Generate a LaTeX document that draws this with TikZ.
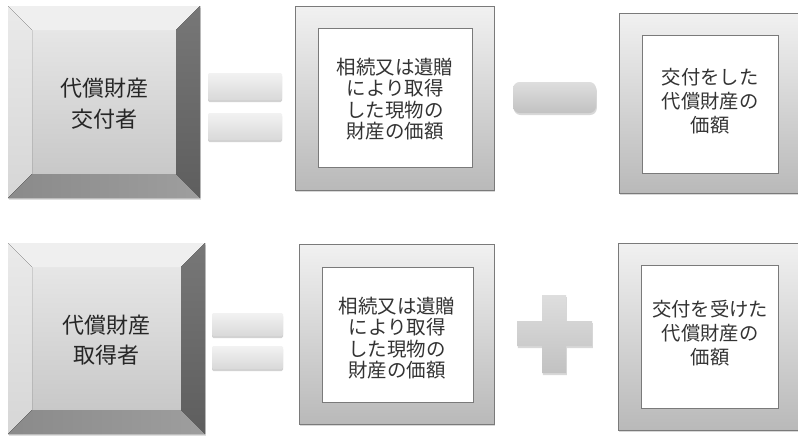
\documentclass[tikz,border=0pt]{standalone}
\usepackage{fontspec}
\newfontfamily\cjk{Noto Sans CJK JP}
\usetikzlibrary{shadows,calc}
\definecolor{bvTop}{HTML}{EFEFEF}
\definecolor{bvLeftA}{HTML}{EAEAEA}
\definecolor{bvLeftB}{HTML}{D6D6D6}
\definecolor{bvRightA}{HTML}{777777}
\definecolor{bvRightB}{HTML}{5E5E5E}
\definecolor{bvBotA}{HTML}{8A8A8A}
\definecolor{bvBotB}{HTML}{9E9E9E}
\definecolor{bvFaceA}{HTML}{E6E6E6}
\definecolor{bvFaceB}{HTML}{C8C8C8}
\definecolor{frA}{HTML}{F1F1F1}
\definecolor{frB}{HTML}{B9B9B9}
\definecolor{frLine}{HTML}{7A7A7A}
\tikzset{
  frameout/.style={draw=frLine, line width=0.7pt, top color=frA, bottom color=frB,
    drop shadow={opacity=0.3, shadow xshift=0.8pt, shadow yshift=-1.6pt}},
  framein/.style={draw=frLine, line width=0.7pt, fill=white},
  eqbar/.style={top color=white!95!black, bottom color=white!85!black, rounded corners=1pt,
    drop shadow={opacity=0.35, shadow xshift=0pt, shadow yshift=-1.5pt}},
  opbar/.style={top color=white!87!black, bottom color=white!76!black,
    drop shadow={opacity=0.3, shadow xshift=0.6pt, shadow yshift=-1.5pt}},
  bigtxt/.style={align=center, font=\cjk\fontsize{16.5}{23}\selectfont, text=black!85},
  midtxt/.style={align=center, font=\cjk\fontsize{14.6}{16}\selectfont, text=black!80},
  rtxt/.style={align=center, font=\cjk\fontsize{14.5}{18}\selectfont, text=black!80},
}
% bevel box: x1,y1,x2,y2,b
\newcommand\mybevel[5]{%
  \path[drop shadow={opacity=0.25, shadow xshift=0.6pt, shadow yshift=-1.2pt}, fill=bvBotA] (#1,#2) rectangle (#3,#4);
  \fill[top color=bvFaceA, bottom color=bvFaceB] (#1+#5,#2+#5) rectangle (#3-#5,#4-#5);
  \fill[bvTop] (#1,#2) -- (#3,#2) -- (#3-#5,#2+#5) -- (#1+#5,#2+#5) -- cycle;
  \fill[top color=bvLeftA, bottom color=bvLeftB] (#1,#2) -- (#1+#5,#2+#5) -- (#1+#5,#4-#5) -- (#1,#4) -- cycle;
  \fill[top color=bvRightA, bottom color=bvRightB] (#3,#2) -- (#3,#4) -- (#3-#5,#4-#5) -- (#3-#5,#2+#5) -- cycle;
  \fill[left color=bvBotA, right color=bvBotB] (#1,#4) -- (#1+#5,#4-#5) -- (#3-#5,#4-#5) -- (#3,#4) -- cycle;
}
\begin{document}
\begin{tikzpicture}[x=0.75pt,y=-0.75pt]
\useasboundingbox (0,0) rectangle (798,436);
\fill[white] (0,0) rectangle (798,436);

% ---------- top row ----------
\mybevel{8}{6}{200}{198}{24}
\node[bigtxt] (t1) at (104,104) {代償財産\\交付者};

\path[eqbar] (208,73) rectangle (282,100);
\path[eqbar] (208,113) rectangle (282,140);

\path[frameout] (295,6) rectangle (494,190);
\path[framein] (318,28) rectangle (472,167);
\node[midtxt] (t2) at (395,99) {相続又は遺贈\\により取得\\した現物の\\財産の価額};

\path[opbar, rounded corners=5pt] (513,82) rectangle (596,113);

\path[frameout] (619,13) rectangle (800,193);
\path[framein] (642,35) rectangle (778,173);
\node[rtxt] (t3) at (710,101) {交付をした\\代償財産の\\価額};

% ---------- bottom row ----------
\mybevel{8}{243}{205}{434}{24}
\node[bigtxt] (b1) at (106,340) {代償財産\\取得者};

\path[eqbar] (212,313) rectangle (283,336);
\path[eqbar] (212,346) rectangle (283,369);

\path[frameout] (299,244) rectangle (494,424);
\path[framein] (322,267) rectangle (473,402);
\node[midtxt] (b2) at (397,338) {相続又は遺贈\\により取得\\した現物の\\財産の価額};

\path[opbar] (542,295) -- (566,295) -- (566,321) -- (592,321) -- (592,346) -- (566,346)
  -- (566,373) -- (542,373) -- (542,346) -- (517,346) -- (517,321) -- (542,321) -- cycle;

\path[frameout] (618,243) rectangle (800,430);
\path[framein] (641,265) rectangle (778,408);
\node[rtxt] (b3) at (710,333) {交付を受けた\\代償財産の\\価額};
\end{tikzpicture}
\end{document}
